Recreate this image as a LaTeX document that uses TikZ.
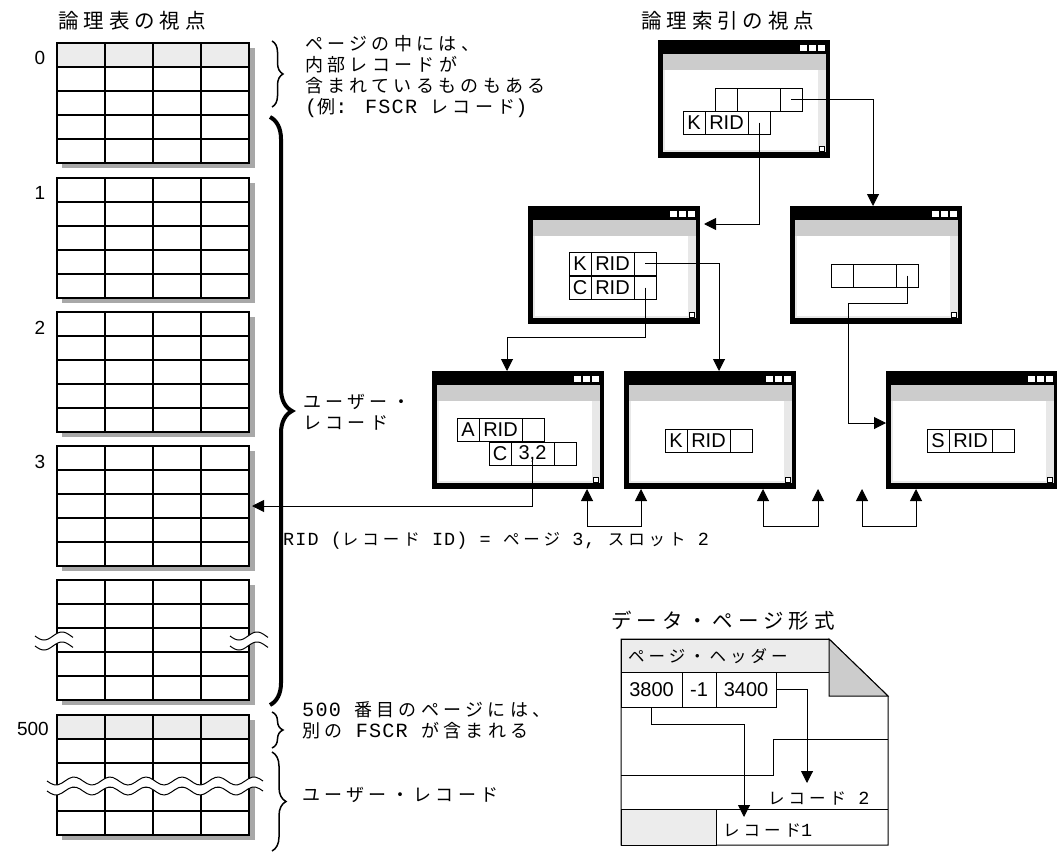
\documentclass[tikz,border=0pt]{standalone}
\usepackage{fontspec}
\setmainfont{Liberation Sans}
\newfontfamily\jp[LetterSpace=24]{Noto Sans CJK JP}
\newfontfamily\lat[LetterSpace=6,Scale=1.12]{Liberation Mono}
\newcommand\hw[1]{{\lat #1}}
\usepackage{tikz}
\usetikzlibrary{arrows.meta,positioning,calc,decorations.pathreplacing}
\definecolor{hdrgray}{RGB}{236,236,236}
\definecolor{bargray}{RGB}{204,204,204}
\definecolor{stripgray}{RGB}{232,232,232}
\definecolor{shadegray}{RGB}{168,168,168}
\tikzset{>={Triangle[length=12pt,width=12pt]}}

% grid of a table page (4 columns, 5 rows)
\newcommand\tabgrid{%
  \foreach \c in {1,2,3}
    \draw[line width=1.3pt] ([xshift=\c*48pt]path picture bounding box.north west) -- ([xshift=\c*48pt]path picture bounding box.south west);
  \foreach \r in {1,...,4}
    \draw[line width=1.3pt] ([yshift=-\r*24pt]path picture bounding box.north west) -- ([yshift=-\r*24pt]path picture bounding box.north east);
}
% table page with its shadow: name, style, top
\newcommand\tabpage[3]{%
  \fill[shadegray] (62,#3+5) rectangle (254.5,#3+125);
  \node[#2] (#1) at (57,#3) {};
}
% filled box inside a window, offsets from its top left
\newcommand\wfill[5]{\fill[#5] ($(path picture bounding box.north west)+(#1pt,-#2pt)$) rectangle ($(path picture bounding box.north west)+(#3pt,-#4pt)$);}
% one row of an index entry: key, rid, pointer
\newcommand\recrow[5]{%
  \node[kcell,anchor=north west] (#1-k) at (#2,#3) {#4};
  \node[ridcell,right=0pt of #1-k] (#1-r) {#5};
  \node[kcell,right=0pt of #1-r] (#1-p) {};
}
% torn edge
\newcommand\squig[3]{%
  \fill[white] plot[domain=#1:#2,samples=60] (\x,{#3-5+4*sin(10*(\x-#1))}) -- plot[domain=#2:#1,samples=60] (\x,{#3+5+4*sin(10*(\x-#1))}) -- cycle;
  \draw[line width=1pt] plot[domain=#1:#2,samples=60] (\x,{#3-5+4*sin(10*(\x-#1))});
  \draw[line width=1pt] plot[domain=#1:#2,samples=60] (\x,{#3+5+4*sin(10*(\x-#1))});
}

\begin{document}
\begin{tikzpicture}[x=1pt,y=-1pt,
    pagetab/.style={draw,line width=1.3pt,fill=white,minimum width=192pt,minimum height=120pt,inner sep=0pt,outer sep=0pt,anchor=north west,
      path picture={\tabgrid}},
    hdrtab/.style={pagetab,path picture={\fill[hdrgray] (path picture bounding box.north west) rectangle ([yshift=-24pt]path picture bounding box.north east); \tabgrid}},
    idxwin/.style={fill=black,minimum width=172pt,minimum height=118pt,inner sep=0pt,outer sep=0pt,anchor=north west,
      path picture={
        \wfill{5}{14}{168}{30}{bargray}
        \wfill{5}{30}{168}{112}{white}
        \wfill{160}{30}{168}{112}{stripgray}
        \wfill{5}{30}{7}{112}{stripgray}
        \wfill{5}{110}{168}{112}{stripgray}
        \wfill{142}{5}{149}{11}{white}
        \wfill{151}{5}{158}{11}{white}
        \wfill{160}{5}{167}{11}{white}
        \filldraw[fill=white,line width=0.8pt] ($(path picture bounding box.north west)+(161.5pt,-106pt)$) rectangle ++(5pt,-5pt);
      }},
    cell/.style={draw,line width=1pt,inner sep=0pt,outer sep=0pt,minimum height=23pt,font=\fontsize{20}{22}\selectfont},
    kcell/.style={cell,minimum width=22pt},
    ridcell/.style={cell,minimum width=43pt},
    numcell/.style={draw,line width=1pt,inner sep=0pt,outer sep=0pt,minimum height=35pt,font=\fontsize{20}{22}\selectfont},
    numlbl/.style={inner sep=0pt,font=\fontsize{19}{22}\selectfont},
    jptitle/.style={inner sep=0pt,anchor=west,font=\jp\fontsize{20.5}{22}\selectfont},
    note/.style={inner sep=0pt,anchor=west,align=left,font=\jp\fontsize{18}{21}\selectfont},
    small/.style={inner sep=0pt,anchor=west,font=\jp\fontsize{16.5}{20}\selectfont},
    conn/.style={line width=1pt,->},
    sib/.style={line width=1pt,<->}]
  \useasboundingbox (0,0) rectangle (1057,851);

  % logical table
  \node[jptitle] (ttab) at (58,21) {論理表の視点};
  \tabpage{tab0}{hdrtab}{43}
  \tabpage{tab1}{pagetab}{178}
  \tabpage{tab2}{pagetab}{312}
  \tabpage{tab3}{pagetab}{446}
  \tabpage{tab4}{pagetab}{580}
  \tabpage{tab500}{hdrtab}{715}
  \node[numlbl] (n0) at (40,58) {0};
  \node[numlbl] (n1) at (40,193) {1};
  \node[numlbl] (n2) at (40,328) {2};
  \node[numlbl] (n3) at (40,462) {3};
  \node[numlbl,anchor=east] (n500) at (49,729) {500};
  \squig{35}{73}{641}
  \squig{230}{268}{641}
  \squig{47}{263}{786}

  % braces and notes
  \draw[line width=1.5pt,decorate,decoration={brace,amplitude=11pt}] (272,41) -- (272,107);
  \draw[line width=4pt,decorate,decoration={brace,amplitude=22pt}] (270,117) -- (270,705);
  \draw[line width=1.5pt,decorate,decoration={brace,amplitude=11pt}] (272,712) -- (272,748);
  \draw[line width=1.5pt,decorate,decoration={brace,amplitude=14pt}] (272,752) -- (272,851);
  \node[note] (fscr0) at (305,77) {ページの中には、\\内部レコードが\\含まれているものもある\\\hw{(}例\hw{: FSCR }レコード\hw{)}};
  \node[note] (usr1) at (303,412) {ユーザー・\\レコード};
  \node[small] (ridtxt) at (283,541) {\hw{RID (}レコード\hw{ ID) = }ページ\hw{ 3, }スロット\hw{ 2}};
  \node[note] (fscr500) at (302,720) {\hw{500 }番目のページには、\\別の\hw{ FSCR }が含まれる};
  \node[note] (usr2) at (302,795) {ユーザー・レコード};

  % logical index
  \node[jptitle] (tidx) at (641,21) {論理索引の視点};
  \node[idxwin] (root) at (658,40) {};
  \node[idxwin] (midL) at (528,206) {};
  \node[idxwin] (midR) at (790,206) {};
  \node[idxwin] (leaf1) at (432,371) {};
  \node[idxwin] (leaf2) at (624,371) {};
  \node[idxwin] (leaf3) at (886,371) {};
  \recrow{rootA}{715}{88}{}{}
  \recrow{rootB}{683}{111}{K}{RID}
  \recrow{midLK}{569}{252}{K}{RID}
  \recrow{midLC}{569}{276}{C}{RID}
  \recrow{midRA}{831}{264}{}{}
  \recrow{leafA}{457}{418}{A}{RID}
  \recrow{leafC}{489}{442}{C}{3,2}
  \recrow{leafK}{665}{429}{K}{RID}
  \recrow{leafS}{927}{429}{S}{RID}

  \draw[conn] (rootA-p.center) -| ([xshift=-3pt]midR.north);
  \draw[conn] (rootB-p.center) |- ([shift={(4pt,-18pt)}]midL.north east);
  \draw[conn] (midLK-p.center) -| ([xshift=9pt]leaf2.north);
  \draw[conn] (midLC-p.center) -- ++(0,50) -| ([xshift=-11pt]leaf1.north);
  \draw[conn] (midRA-p.center) -- ++(0,28) -| ($(leaf3.west)+(-38pt,7pt)$) -- ([yshift=7pt]leaf3.west);
  \draw[conn] ([yshift=-4pt]leafC-r.center) |- ([xshift=3pt]tab3.east);

  \coordinate (nextR) at (818,489);
  \coordinate (prevL) at (862,489);
  \draw[sib] ([xshift=-17pt]leaf1.south east) -- ++(0,37) -| ([xshift=17pt]leaf2.south west);
  \draw[sib] ([xshift=-33pt]leaf2.south east) -- ++(0,37) -| (nextR);
  \draw[sib] (prevL) -- ++(0,37) -| ([xshift=30pt]leaf3.south west);

  % data page format
  \node[jptitle] (tfmt) at (611,621) {データ・ページ形式};
  \draw[line width=1pt,fill=white] (621,639) -- (829,639) -- (888,696) -- (888,845) -- (621,845) -- cycle;
  \filldraw[fill=hdrgray,line width=1pt] (621,639) rectangle (829,672);
  \filldraw[fill=bargray,line width=1pt] (829,639) -- (829,696) -- (888,696) -- cycle;
  \node[small] (phdr) at (628,656) {ページ・ヘッダー};
  \node[numcell,minimum width=61pt,anchor=north west] (c3800) at (621,672) {3800};
  \node[numcell,minimum width=34pt,right=0pt of c3800] (cm1) {-1};
  \node[numcell,minimum width=60pt,right=0pt of cm1] (c3400) {3400};
  \draw[line width=1pt] (621,775) -- (773,775) -- (773,739) -- (888,739);
  \draw[line width=1pt] (621,809) -- (888,809);
  \filldraw[fill=hdrgray,line width=1pt] (621,809) rectangle (716,845);
  \node[small] (rec2) at (768,798) {レコード\hw{ 2}};
  \node[small] (rec1) at (723,830) {レコード\hw{1}};
  \coordinate (rec2tip) at (807,783);
  \coordinate (rec1tip) at (744,817);
  \draw[conn] (c3400.east) -| (rec2tip);
  \draw[conn] (c3800.south) -- ++(0,17) -| (rec1tip);
\end{tikzpicture}
\end{document}
